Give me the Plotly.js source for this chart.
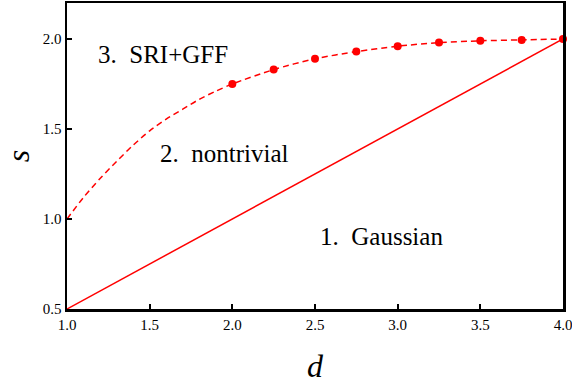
<!DOCTYPE html>
<html>
<head>
<meta charset="utf-8">
<script src="https://cdn.plot.ly/plotly-3.0.1.min.js"></script>
<style>html,body{margin:0;padding:0;background:#fff;}#plot{width:572px;height:385px;}</style>
</head>
<body>
<div id="plot"></div>
<script>
// Dashed boundary curve (SRI+GFF / nontrivial)
const curveD = [1.0, 1.1, 1.2, 1.3, 1.4, 1.5, 1.6, 1.7, 1.8, 1.9, 2.0, 2.25, 2.5, 2.75, 3.0, 3.25, 3.5, 3.75, 4.0];
const curveS = [1.0, 1.12, 1.225, 1.32, 1.41, 1.49, 1.555, 1.61, 1.665, 1.71, 1.75, 1.83, 1.89, 1.93, 1.96, 1.98, 1.99, 1.995, 2.0];
// Marked points
const pointD = [2.0, 2.25, 2.5, 2.75, 3.0, 3.25, 3.5, 3.75, 4.0];
const pointS = [1.75, 1.83, 1.89, 1.93, 1.96, 1.98, 1.99, 1.995, 2.0];
// Gaussian boundary s = d/2
const lineD = [1.0, 4.0];
const lineS = [0.5, 2.0];
// Region labels
const labelText = ["3.&nbsp; SRI+GFF", "2.&nbsp; nontrivial", "1.&nbsp; Gaussian"];
const labelD = [1.58, 1.95, 2.905];
const labelS = [1.915, 1.365, 0.905];
const xTicks = [1.0, 1.5, 2.0, 2.5, 3.0, 3.5, 4.0];
const yTicks = [0.5, 1.0, 1.5, 2.0];

const serif = "Liberation Serif";
const data = [
  {x: lineD, y: lineS, mode: "lines", line: {color: "#ff0000", width: 1.5}, hoverinfo: "none"},
  {x: curveD, y: curveS, mode: "lines", line: {color: "#ff0000", width: 1.5, dash: "6px,4px", shape: "spline", smoothing: 0.8}, hoverinfo: "none"},
  {x: pointD, y: pointS, mode: "markers", marker: {color: "#ff0000", size: 8}, hoverinfo: "none", cliponaxis: false}
];
const annotations = labelText.map((t, i) => ({
  x: labelD[i], y: labelS[i], xref: "x", yref: "y", text: t, showarrow: false,
  font: {family: serif, size: 25, color: "#000"}, xanchor: "center", yanchor: "middle"
}));
const axisCommon = {
  showline: true, mirror: true, linecolor: "#000", linewidth: 2.5,
  ticks: "inside", ticklen: 5, tickwidth: 2, tickcolor: "#000",
  showgrid: false, zeroline: false, ticklabeloverflow: "allow",
  tickfont: {family: serif, size: 15, color: "#000"}, tickformat: ".1f"
};
const layout = {
  width: 572, height: 385,
  margin: {l: 67, r: 9, t: 3, b: 76},
  paper_bgcolor: "#fff", plot_bgcolor: "#fff",
  showlegend: false,
  font: {family: serif},
  xaxis: Object.assign({}, axisCommon, {range: [1.0, 4.0], tickvals: xTicks,
    title: {text: "<i>d</i>", font: {family: serif, size: 32, color: "#000"}, standoff: 23}}),
  yaxis: Object.assign({}, axisCommon, {range: [0.5, 2.2], tickvals: yTicks,
    title: {text: "<i>s</i>", font: {family: serif, size: 32, color: "#000"}, standoff: 12}}),
  annotations: annotations
};
Plotly.newPlot("plot", data, layout, {displayModeBar: false, staticPlot: true});
</script>
</body>
</html>
